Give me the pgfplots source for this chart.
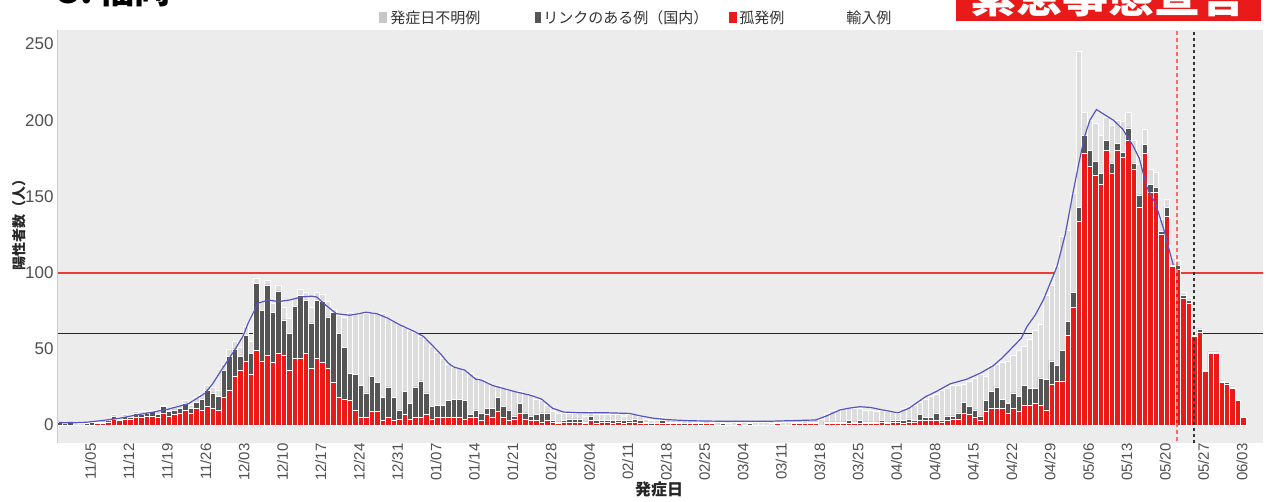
\documentclass[border=0pt]{standalone}
\usepackage{pgfplots}
\pgfplotsset{compat=1.18}
\usepackage{pgfplotstable}
\usepackage{fontspec}
\setmainfont{Liberation Sans}
\newfontfamily\jp{Noto Sans CJK JP}
\definecolor{panel}{RGB}{236,236,236}
\definecolor{lightbar}{RGB}{221,221,221}
\definecolor{darkbar}{RGB}{85,85,85}
\definecolor{redbar}{RGB}{232,26,26}
\definecolor{avgline}{RGB}{85,85,190}
\definecolor{ticklab}{RGB}{80,80,80}
\definecolor{hred}{RGB}{235,60,60}
\definecolor{vred}{RGB}{240,110,110}

\pgfplotstableread{
d r k u
-5 0 2 0
-4 0 1 0
-3 0 2 0
-2 0 0 1
-1 0 0 1
0 0 1 1
1 0 2 0
2 1 0 1
3 1 1 1
4 2 1 1
5 4 2 1
6 3 1 1
7 4 2 1
8 4 1 1
9 5 3 1
10 5 2 2
11 6 2 1
12 6 3 1
13 5 2 2
14 8 4 1
15 6 3 2
16 7 3 2
17 8 3 2
18 10 4 2
19 8 3 2
20 11 4 3
21 10 7 3
22 12 11 3
23 11 10 4
24 10 9 4
25 18 18 4
26 23 22 5
27 32 18 5
28 36 9 6
29 42 17 6
30 33 14 8
31 49 44 3
32 42 33 6
33 46 46 3
34 41 33 6
35 47 41 4
36 46 23 8
37 36 24 10
38 44 34 5
39 44 41 4
40 47 35 5
41 37 30 10
42 44 38 5
43 41 40 5
44 37 34 10
45 28 46 2
46 18 42 12
47 17 34 20
48 16 18 40
49 10 23 40
50 5 21 48
51 5 16 52
52 9 23 42
53 9 19 45
54 3 15 55
55 5 20 45
56 3 15 50
57 4 6 56
58 7 15 42
59 4 10 48
60 5 20 36
61 5 24 29
62 7 14 35
63 4 8 40
64 5 8 35
65 5 8 31
66 5 11 24
67 5 12 21
68 5 12 20
69 4 12 20
70 5 2 27
71 5 5 22
72 3 5 22
73 7 4 17
74 5 6 15
75 9 9 8
76 5 7 12
77 3 7 13
78 4 2 16
79 8 6 8
80 4 4 13
81 3 3 14
82 3 4 10
83 2 6 8
84 3 5 5
85 2 1 6
86 1 1 6
87 2 1 5
88 2 2 4
89 2 2 4
90 2 2 4
91 1 1 4
92 3 3 3
93 1 2 4
94 2 1 4
95 2 1 4
96 1 2 4
97 2 1 4
98 1 2 3
99 2 1 4
100 2 2 3
101 1 2 3
102 1 1 2
103 0 1 2
104 1 0 2
105 1 2 2
106 1 1 2
107 1 1 1
108 1 1 2
109 0 1 2
110 1 0 2
111 1 1 1
112 0 1 1
113 1 0 2
114 1 1 1
115 0 0 2
116 0 1 1
117 0 0 1
118 0 0 2
119 1 0 1
120 0 0 2
121 0 1 1
122 0 0 2
123 0 0 2
124 0 0 2
125 0 0 1
126 1 0 1
127 0 0 2
128 0 0 2
129 1 1 1
130 1 1 1
131 1 0 2
132 1 1 1
133 1 1 2
134 0 0 4
135 1 1 6
136 1 1 8
137 1 1 8
138 1 1 9
139 1 2 8
140 1 1 9
141 1 2 8
142 1 1 8
143 1 1 8
144 1 1 7
145 2 1 7
146 1 1 7
147 2 1 6
148 2 1 5
149 1 2 8
150 2 2 8
151 2 1 10
152 3 4 8
153 3 2 12
154 3 2 14
155 3 5 12
156 2 1 20
157 3 3 18
158 4 2 20
159 4 4 18
160 8 7 12
161 7 5 17
162 5 5 21
163 3 3 27
164 9 7 16
165 11 11 17
166 11 14 15
167 11 6 24
168 8 6 28
169 11 10 25
170 9 10 30
171 13 13 26
172 13 11 32
173 14 10 38
174 13 18 35
175 10 20 55
176 27 15 50
177 29 10 65
178 29 20 75
179 59 9 60
180 77 10 65
181 134 9 102
182 178 12 15
183 170 10 20
184 164 9 25
185 158 7 25
186 180 7 15
187 165 7 25
188 180 5 15
189 176 3 20
190 187 8 10
191 168 4 15
192 143 8 20
193 178 6 10
194 153 5 10
195 153 3 10
196 125 2 8
197 137 6 5
198 104 1 5
199 102 3 3
200 83 2 2
201 80 2 2
202 58 1 1
203 61 2 0
204 35 1 0
205 47 1 0
206 47 1 0
207 28 1 0
208 27 1 0
209 24 1 0
210 16 0 0
211 5 0 0
}\cases

\begin{document}
\begin{tikzpicture}
\useasboundingbox (0pt,0pt) rectangle (633pt,-251pt);
\fill[white] (0pt,0pt) rectangle (633pt,-251pt);

\begin{axis}[
  at={(28.5pt,-221.5pt)}, anchor=south west,
  scale only axis, width=603pt, height=206.5pt,
  xmin=-5.38, xmax=214.57, ymin=-11.81, ymax=259.19,
  axis background/.style={fill=panel},
  axis line style={draw=none},
  tick style={draw=none}, major tick length=0pt,
  /pgf/number format/assume math mode=true,
  ytick={0,50,100,150,200,250},
  yticklabel style={font=\fontsize{8.5}{8.5}\selectfont, text=ticklab, inner sep=0pt, xshift=-1.5pt},
  xtick={0,7,...,210},
  xticklabels={11/05,11/12,11/19,11/26,12/03,12/10,12/17,12/24,12/31,01/07,01/14,01/21,01/28,02/04,02/11,02/18,02/25,03/04,03/11,03/18,03/25,04/01,04/08,04/15,04/22,04/29,05/06,05/13,05/20,05/27,06/03},
  xticklabel style={rotate=90, anchor=east, font=\fontsize{7.5}{7.5}\selectfont, text=ticklab, inner sep=0pt, yshift=-2pt},
  ybar stacked, bar width=1,
  clip=true,
]
\addplot[fill=redbar, draw=white, line width=0.25pt] table[x=d,y=r]{\cases};
\addplot[fill=darkbar, draw=white, line width=0.25pt] table[x=d,y=k]{\cases};
\addplot[fill=lightbar, draw=white, line width=0.25pt] table[x=d,y=u]{\cases};
\draw[hred, line width=1pt] (axis cs:-10,100) -- (axis cs:220,100);
\draw[black!85, line width=0.7pt] (axis cs:-10,60) -- (axis cs:220,60);
\end{axis}

\begin{axis}[
  at={(28.5pt,-221.5pt)}, anchor=south west,
  scale only axis, width=603pt, height=206.5pt,
  xmin=-5.38, xmax=214.57, ymin=-11.81, ymax=259.19,
  hide axis, clip=true,
]
\addplot[avgline, line width=0.6pt, mark=none] coordinates {
(-5,1.5) (-2,1.5) (0,1.8) (3,3) (6,4.4) (9,6.5) (12.5,8.7) (15,10.5) (18.6,14) (21.6,20.8) (23,27) (24.6,36) (27,49) (28.5,58) (29.5,67) (31.3,80) (33.2,82) (35,81) (37,82) (39.2,84) (41,84.5) (42,84) (43.5,79) (45.6,73) (48,72) (51,74) (53,73) (55,70) (57,66) (60,61) (61.5,58) (63,52.5) (64.5,47) (66,40.5) (67,38) (69,36) (71,30) (72,29.5) (74,26) (76,24) (78,22) (81,19.5) (83,17) (85,11) (87,8.5) (90,8) (95,8) (99,7.6) (101,6) (103.5,4.4) (106,3.5) (110,2.8) (115,2.5) (120,2.5) (125,2.5) (130,3) (133,3.3) (135,6) (137.5,10) (139,11) (141,12) (143,11.5) (145,10) (148,8) (150,11) (153,18.5) (155,22) (157.5,27) (160.5,30) (163,34) (165.4,39) (167,44) (169,51.4) (170.5,57) (171.5,64.5) (173,72) (174.5,82) (177,104) (178.5,125) (180,154) (181,172) (182,189) (183,200) (184.2,207) (185.5,204) (187.3,200) (189,194) (190.9,183) (192,175) (193.4,156) (195,145) (196.5,128) (198.2,105)
};
\draw[vred, line width=0.8pt, dash pattern=on 2pt off 1.5pt] (axis cs:198.9,-20) -- (axis cs:198.9,270);
\draw[black!80, line width=0.8pt, dash pattern=on 1.5pt off 1.5pt] (axis cs:201.95,-20) -- (axis cs:201.95,270);
\end{axis}

\begin{scope}[x=0.5pt,y=-0.5pt]
% left panel edge
\draw[gray!40, line width=0.4pt] (57,30) -- (57,443);
% legend
\fill[lightbar!90!black] (379,12) rectangle (387,23);
\node[anchor=west, inner sep=0pt, font=\jp\fontsize{7.5}{7.5}\selectfont, text=black!80] at (390,17.5) {発症日不明例};
\fill[darkbar] (535,12) rectangle (541,23);
\node[anchor=west, inner sep=0pt, font=\jp\fontsize{7.5}{7.5}\selectfont, text=black!80] at (543,17.5) {リンクのある例（国内）};
\fill[redbar] (729,12) rectangle (737,23);
\node[anchor=west, inner sep=0pt, font=\jp\fontsize{7.5}{7.5}\selectfont, text=black!80] at (739,17.5) {孤発例};
\node[anchor=west, inner sep=0pt, font=\jp\fontsize{7.5}{7.5}\selectfont, text=black!80] at (846,17.5) {輸入例};
% axis titles
\node[rotate=90, inner sep=0pt, font=\jp\bfseries\fontsize{7}{7}\selectfont, text=black!85] at (19,222) {陽性者数（人）};
\node[inner sep=0pt, font=\jp\bfseries\fontsize{8}{8}\selectfont, text=black!85] at (659,489.5) {発症日};
% top banners (cut off by the page edge)
\fill[redbar] (956,-20) rectangle (1261,21.5);
\node[anchor=base, inner sep=0pt, text=white, font=\jp\bfseries\fontsize{23}{23}\selectfont] at (1108,13) {緊急事態宣言};
\node[anchor=base west, inner sep=0pt, font=\jp\bfseries\fontsize{18}{18}\selectfont] at (58,4) {3.\,福岡};
\end{scope}
\end{tikzpicture}
\end{document}
